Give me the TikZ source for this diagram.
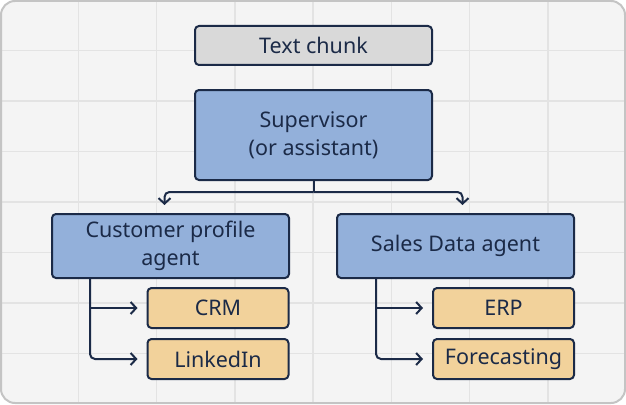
\documentclass[tikz,border=0pt]{standalone}
\usepackage{fontspec}
\setmainfont{Noto Sans}
\usetikzlibrary{arrows.meta,calc}
\definecolor{navy}{HTML}{1B2A47}
\definecolor{bgc}{HTML}{F4F4F4}
\definecolor{gridc}{HTML}{E3E3E3}
\definecolor{framec}{HTML}{C4C4C4}
\definecolor{grayfill}{HTML}{D9D9D9}
\definecolor{bluefill}{HTML}{93B0DA}
\definecolor{orangefill}{HTML}{F2D29B}
\begin{document}
\begin{tikzpicture}[x=1pt,y=-1pt,
  box/.style={draw=navy, line width=2pt, rounded corners=4pt, text=navy,
    align=center, inner sep=0pt, font=\fontsize{21.5}{28}\selectfont,
    minimum width=237pt},
  agentbox/.style={box, fill=bluefill, minimum height=64pt},
  toolbox/.style={box, fill=orangefill, minimum width=141pt, minimum height=40pt},
  conn/.style={draw=navy, line width=2pt},
  tipd/.style={-{Straight Barb[length=5.5pt,width=12pt]}}]
\useasboundingbox (0,0) rectangle (626,404);
\begin{scope}
  \clip[rounded corners=14pt] (1,1) rectangle (625,403);
  \fill[bgc] (1,1) rectangle (625,403);
  \foreach \i in {1,...,7} {
    \draw[gridc, line width=1.5pt] (\i*78.25,0) -- (\i*78.25,404);
    \draw[gridc, line width=1.5pt] (0,\i*50.5) -- (626,\i*50.5);
  }
\end{scope}
\draw[framec, line width=2pt, rounded corners=14pt] (1,1) rectangle (625,403);

\node[box, fill=grayfill, minimum height=39pt] (chunk) at (313.5,45.5) {Text chunk};
\node[box, fill=bluefill, minimum height=90pt] (sup) at (313.5,135) {Supervisor\\(or assistant)};
\node[agentbox] (cust) at (170.5,246) {Customer profile\\agent};
\node[agentbox] (sales) at (455.5,246) {Sales Data agent};
\node[toolbox] (crm) at (218,308) {CRM};
\node[toolbox] (linkedin) at (218,359) {LinkedIn};
\node[toolbox] (erp) at (503.5,308) {ERP};
\node[toolbox] (fc) at (503.5,359) {Forecasting};

% supervisor fan-out
\coordinate (j) at ($(sup.south)+(0,11)$);
\coordinate (ca) at ($(sup.south)+(-149,24)$);
\coordinate (sa) at ($(sup.south)+(149,24)$);
\draw[conn] (sup.south) -- (j);
\draw[conn, tipd, rounded corners=5pt] (j) -| (ca);
\draw[conn, tipd, rounded corners=5pt] (j) -| (sa);

% customer profile agent branches
\coordinate (cb) at ($(cust.south west)+(39,0)$);
\coordinate (crmend) at ($(crm.west)+(-9,0)$);
\coordinate (liend) at ($(linkedin.west)+(-9,0)$);
\draw[conn, tipd] (cb |- crmend) -- (crmend);
\draw[conn, tipd, rounded corners=5pt] (cb) |- (liend);

% sales data agent branches
\coordinate (sb) at ($(sales.south west)+(40,0)$);
\coordinate (erpend) at ($(erp.west)+(-9,0)$);
\coordinate (fcend) at ($(fc.west)+(-9,0)$);
\draw[conn, tipd] (sb |- erpend) -- (erpend);
\draw[conn, tipd, rounded corners=5pt] (sb) |- (fcend);
\end{tikzpicture}
\end{document}
